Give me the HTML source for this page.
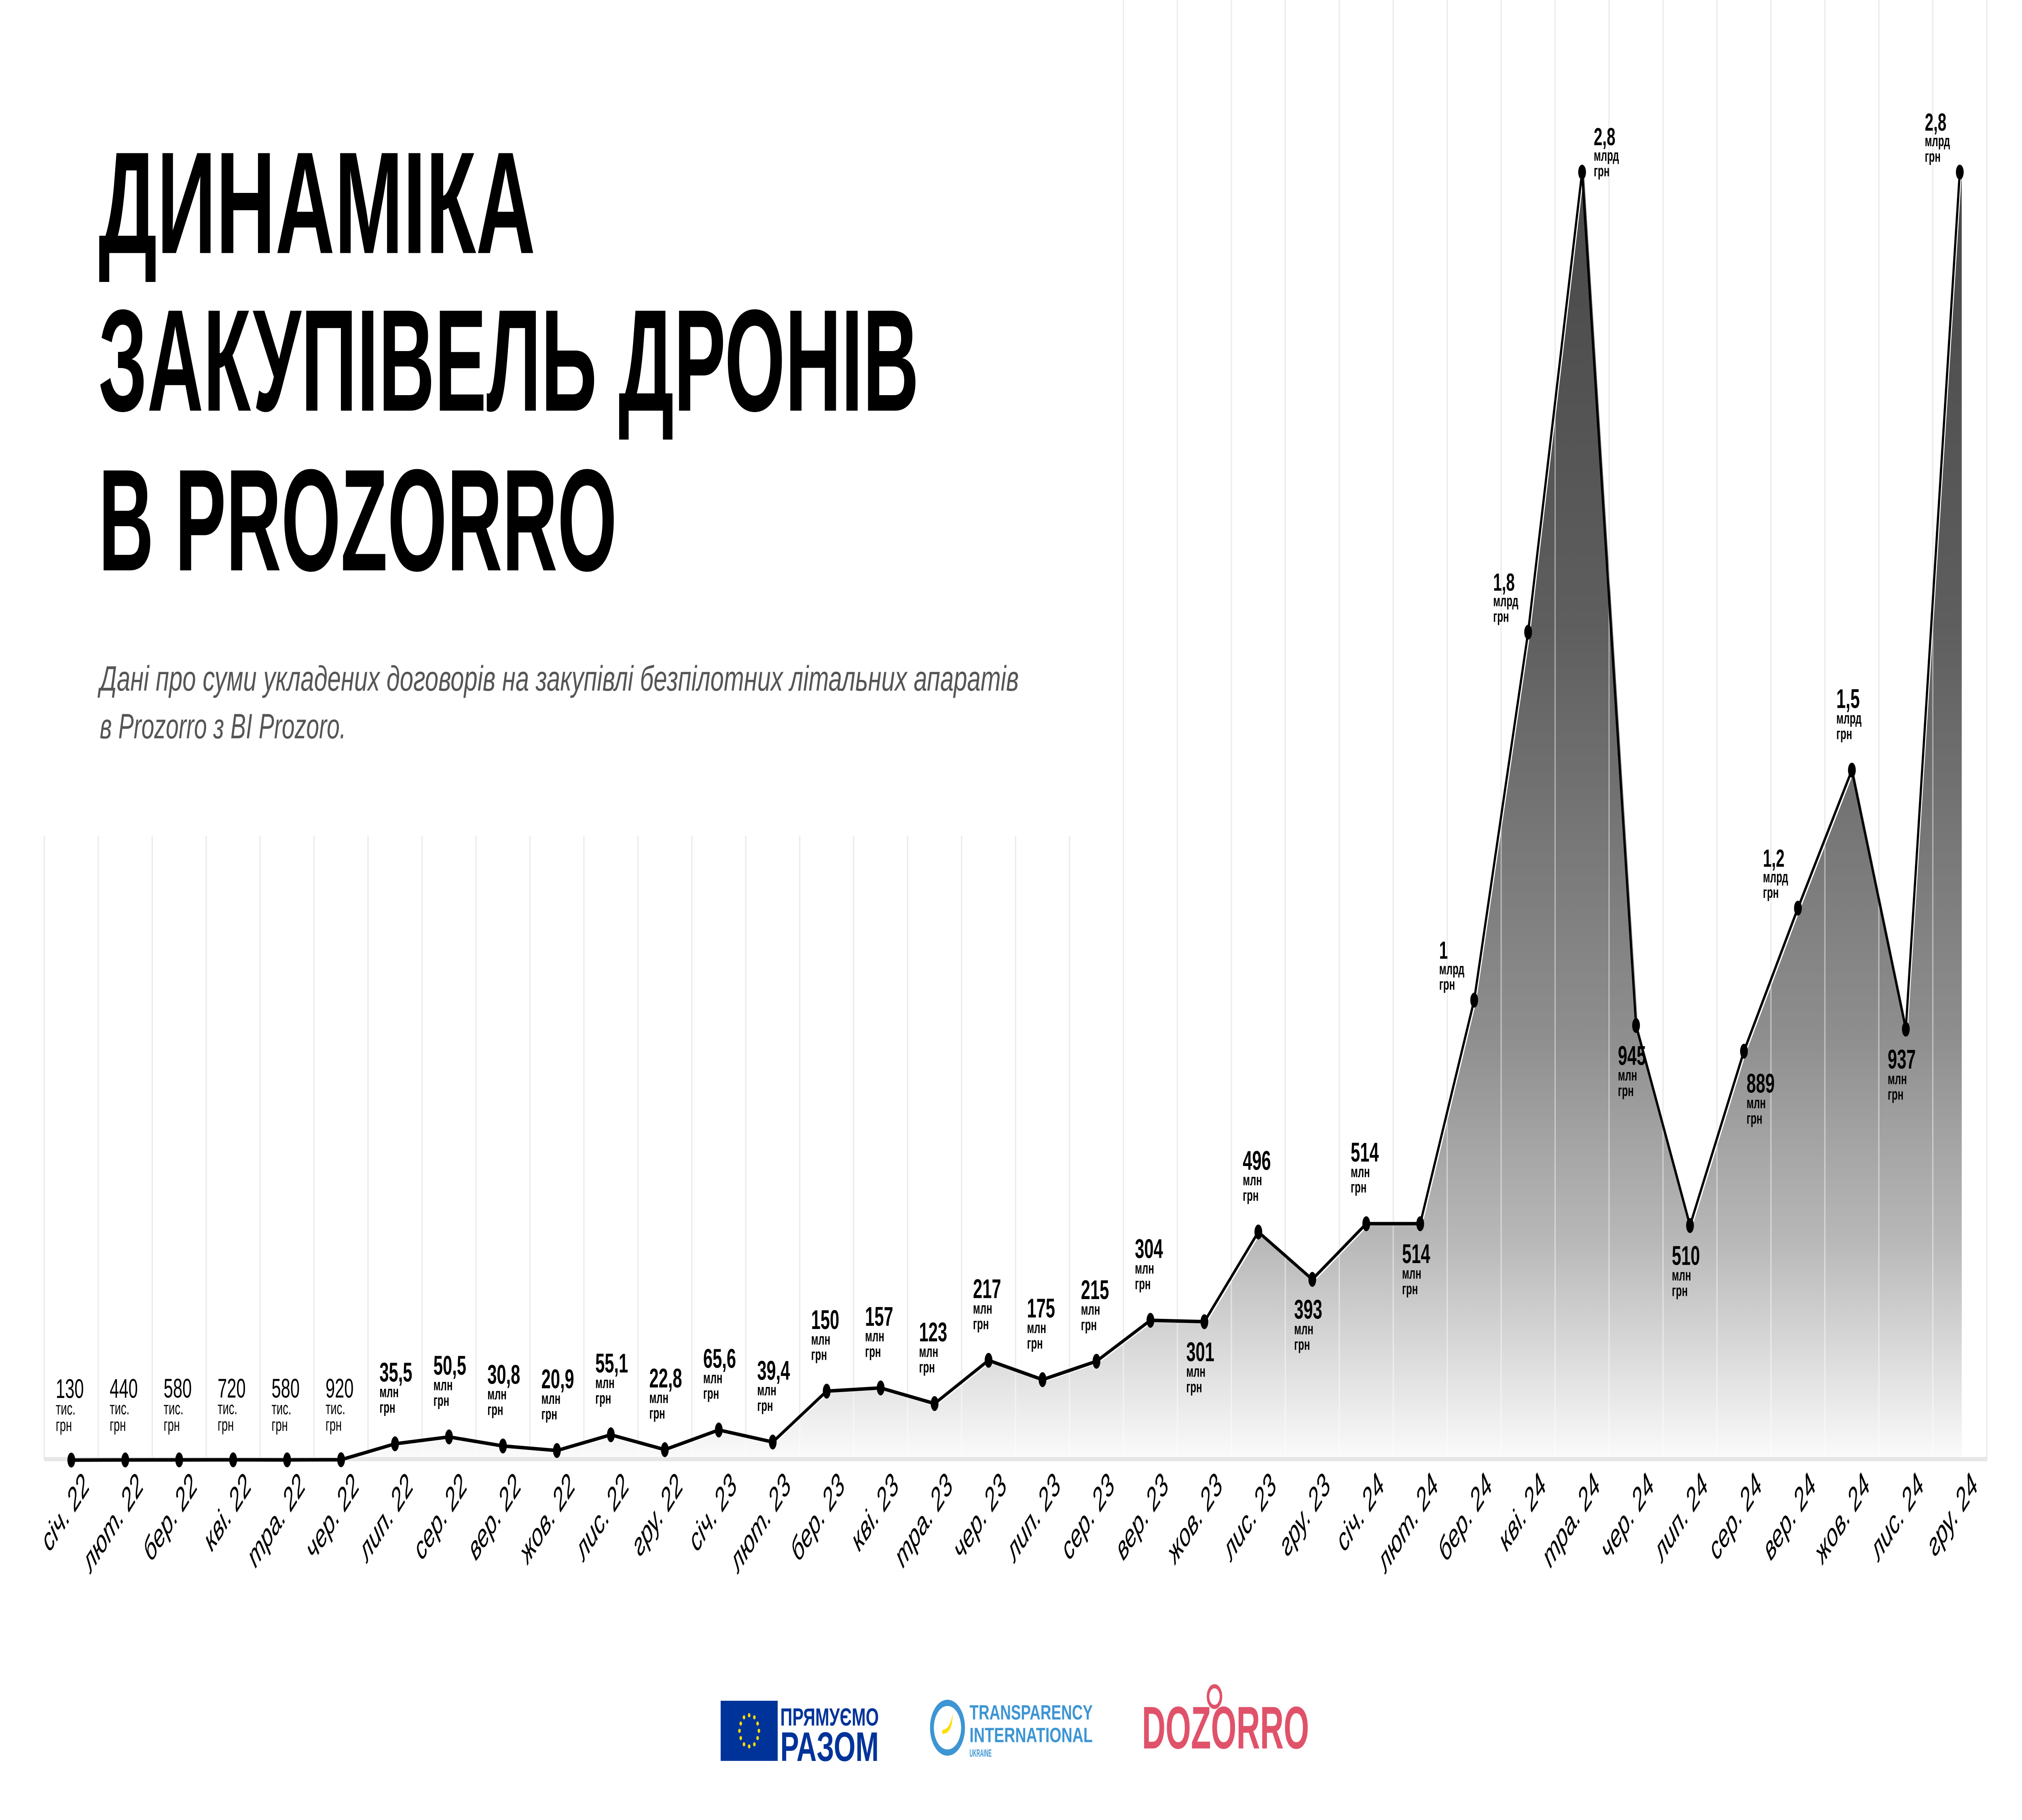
<!DOCTYPE html>
<html><head><meta charset="utf-8">
<style>
html,body{margin:0;padding:0;background:#fff;width:100vw;height:100vh;overflow:hidden;}
svg{display:block;position:absolute;left:0;top:0;width:100vw;height:100vh;}
</style></head>
<body>
<svg id="chart" viewBox="0 0 1560 877.5" preserveAspectRatio="none" xmlns="http://www.w3.org/2000/svg" font-family="'Liberation Sans', 'DejaVu Sans', sans-serif">
  <defs>
    <linearGradient id="fillGrad" gradientUnits="userSpaceOnUse" x1="0" y1="83" x2="0" y2="704">
      <stop offset="0" stop-color="#484848"/>
      <stop offset="0.35" stop-color="#5e5e5e"/>
      <stop offset="0.67" stop-color="#8e8e8e"/>
      <stop offset="0.83" stop-color="#b8b8b8"/>
      <stop offset="1" stop-color="#fbfbfb"/>
    </linearGradient>
  </defs>
  <g id="grid"></g>
  <g id="area"></g>
  <g id="gridover"></g>
  <line x1="34" y1="703.5" x2="1533" y2="703.5" stroke="#e6e6e6" stroke-width="2"/>
  <g id="line"></g>
  <g id="points"></g>
  <g id="labels"></g>
  <g id="xlabels"></g>

  <g font-weight="bold" fill="#000">
    <text x="76" y="122" font-size="70" textLength="337" lengthAdjust="spacingAndGlyphs">ДИНАМІКА</text>
    <text x="76" y="198" font-size="70" textLength="633" lengthAdjust="spacingAndGlyphs">ЗАКУПІВЕЛЬ ДРОНІВ</text>
    <text x="76" y="275" font-size="70" textLength="400" lengthAdjust="spacingAndGlyphs">В PROZORRO</text>
  </g>
  <g font-style="italic" fill="#555" font-size="17">
    <text x="77" y="333" textLength="709" lengthAdjust="spacingAndGlyphs">Дані про суми укладених договорів на закупівлі безпілотних літальних апаратів</text>
    <text x="77" y="356" textLength="190" lengthAdjust="spacingAndGlyphs">в Prozorro з BI Prozoro.</text>
  </g>

  <g>
    <rect x="556" y="820" width="44" height="29" fill="#003399"/>
    <g fill="#ffdd00">
      <circle cx="578" cy="827" r="1"/><circle cx="582" cy="828" r="1"/><circle cx="584.5" cy="831" r="1"/><circle cx="585.5" cy="834.5" r="1"/><circle cx="584.5" cy="838" r="1"/><circle cx="582" cy="841" r="1"/><circle cx="578" cy="842" r="1"/><circle cx="574" cy="841" r="1"/><circle cx="571.5" cy="838" r="1"/><circle cx="570.5" cy="834.5" r="1"/><circle cx="571.5" cy="831" r="1"/><circle cx="574" cy="828" r="1"/>
    </g>
    <text x="602" y="832" font-size="12" font-weight="bold" fill="#003399" textLength="76" lengthAdjust="spacingAndGlyphs">ПРЯМУЄМО</text>
    <text x="602" y="849" font-size="20" font-weight="bold" fill="#003399" textLength="76" lengthAdjust="spacingAndGlyphs">РАЗОМ</text>
  </g>
  <g>
    <circle cx="731" cy="833" r="12" fill="none" stroke="#3d95d3" stroke-width="3"/>
    <path d="M727 834 q6 0 8 -8 q0 10 -8 10z" fill="#ffdd00"/>
    <text x="748" y="829" font-size="10" font-weight="bold" fill="#3d95d3" textLength="95" lengthAdjust="spacingAndGlyphs">TRANSPARENCY</text>
    <text x="748" y="840" font-size="10" font-weight="bold" fill="#3d95d3" textLength="95" lengthAdjust="spacingAndGlyphs">INTERNATIONAL</text>
    <text x="748" y="847" font-size="5" font-weight="bold" fill="#3d95d3" textLength="17" lengthAdjust="spacingAndGlyphs">UKRAINE</text>
  </g>
  <g>
    <text x="881" y="843" font-size="29" font-weight="bold" fill="#e0526a" textLength="129" lengthAdjust="spacingAndGlyphs">DOZORRO</text>
    <circle cx="937" cy="818" r="5" fill="none" stroke="#e0526a" stroke-width="2"/>
  </g>
</svg>
<script>
const categories = ["січ. 22","лют. 22","бер. 22","кві. 22","тра. 22","чер. 22","лип. 22","сер. 22","вер. 22","жов. 22","лис. 22","гру. 22","січ. 23","лют. 23","бер. 23","кві. 23","тра. 23","чер. 23","лип. 23","сер. 23","вер. 23","жов. 23","лис. 23","гру. 23","січ. 24","лют. 24","бер. 24","кві. 24","тра. 24","чер. 24","лип. 24","сер. 24","вер. 24","жов. 24","лис. 24","гру. 24"];
// values in million UAH
const values = [0.13,0.44,0.58,0.72,0.58,0.92,35.5,50.5,30.8,20.9,55.1,22.8,65.6,39.4,150,157,123,217,175,215,304,301,496,393,514,514,1000,1800,2800,945,510,889,1200,1500,937,2800];
const valueLabels = ["130","440","580","720","580","920","35,5","50,5","30,8","20,9","55,1","22,8","65,6","39,4","150","157","123","217","175","215","304","301","496","393","514","514","1","1,8","2,8","945","510","889","1,2","1,5","937","2,8"];
const unitLabels = ["тис.","тис.","тис.","тис.","тис.","тис.","млн","млн","млн","млн","млн","млн","млн","млн","млн","млн","млн","млн","млн","млн","млн","млн","млн","млн","млн","млн","млрд","млрд","млрд","млн","млн","млн","млрд","млрд","млн","млрд"];
const labelPlacement = ["a","a","a","a","a","a","a","a","a","a","a","a","a","a","a","a","a","a","a","a","a","b","a","b","a","b","l","l","r","b","b","br","l","a","b","l"];

const NS = "http://www.w3.org/2000/svg";
const X0 = 55, DX = (1512 - 55) / 35, Y0 = 704, YK = 621 / 2800;
function xs(i){ return X0 + i * DX; }
function ys(v){ return Y0 - v * YK; }
function mk(tag, attrs, parent){
  const el = document.createElementNS(NS, tag);
  for (const k in attrs) el.setAttribute(k, attrs[k]);
  parent.appendChild(el);
  return el;
}
const gGrid = document.getElementById('grid');
const gGridOver = document.getElementById('gridover');
for (let k = 0; k <= categories.length; k++){
  const x = X0 + (k - 0.5) * DX;
  const top = k >= 20 ? 0 : 403;
  const l = mk('line', {x1:x, x2:x, y1:top, y2:Y0, stroke:'#ebebeb', 'stroke-width':1}, gGrid);
  
  
}
let d = 'M' + (xs(0)+1.5) + ' ' + Y0;
values.forEach((v,i)=>{ d += ' L' + (xs(i)+1.5) + ' ' + (ys(v)+1); });
d += ' L' + (xs(values.length-1)+1.5) + ' ' + Y0 + ' Z';
const area = mk('path', {d:d, fill:'url(#fillGrad)'}, document.getElementById('area'));


const defs = document.querySelector('defs');
const cp = mk('clipPath', {id:'areaClip'}, defs);
mk('path', {d:d}, cp);
gGridOver.setAttribute('clip-path', 'url(#areaClip)');
for (let k = 0; k <= categories.length; k++){
  const x = X0 + (k - 0.5) * DX;
  const l = mk('line', {x1:x, x2:x, y1:0, y2:Y0, stroke:'#ffffff', 'stroke-opacity':0.45, 'stroke-width':1}, gGridOver);
  
  
}
const pts = values.map((v,i)=> xs(i) + ',' + ys(v)).join(' ');
const pl = mk('polyline', {points:pts, fill:'none', stroke:'#000', 'stroke-width':1.7, 'stroke-linejoin':'round'}, document.getElementById('line'));


const gP = document.getElementById('points');
const gL = document.getElementById('labels');
values.forEach((v,i)=>{
  const px = xs(i), py = ys(v);
  const c = mk('ellipse', {cx:px, cy:py, rx:3, ry:3.6, fill:'#000'}, gP);
  
  
  const p = labelPlacement[i];
  let lx, ly;
  if (p === 'a'){ lx = px - 12; ly = py - 30; }
  else if (p === 'b'){ lx = px - 14; ly = py + 19; }
  else if (p === 'br'){ lx = px + 2; ly = py + 20; }
  else if (p === 'l'){ lx = px - 27; ly = py - 20; }
  else { lx = px + 9; ly = py - 13; }
  const thous = unitLabels[i] === 'тис.';
  const g = mk('g', {fill:'#000'}, gL);
  
  
  const big = p === 'l' || p === 'r';
  const t1 = mk('text', {x:lx, y:ly, 'font-size': big ? 12 : 13, 'font-weight': thous ? 'normal' : 'bold'}, g);
  t1.textContent = valueLabels[i];
  const t2 = mk('text', {x:lx, y:ly + (thous?8:7.5), 'font-size': thous ? 8.5 : 7.5, 'font-weight': thous ? 'normal' : 'bold'}, g);
  t2.textContent = unitLabels[i];
  const t3 = mk('text', {x:lx, y:ly + (thous?16:15), 'font-size': thous ? 8.5 : 7.5, 'font-weight': thous ? 'normal' : 'bold'}, g);
  t3.textContent = 'грн';
});
const gX = document.getElementById('xlabels');
categories.forEach((c,i)=>{
  const ax = xs(i) + 15, ay = 717;
  const t = mk('text', {x:ax, y:ay, 'font-size':15.5, 'font-style':'italic', 'text-anchor':'end', fill:'#000', transform:'rotate(-45 ' + ax + ' ' + ay + ')'}, gX);
  
  
  t.textContent = c;
});
</script>
</body></html>
